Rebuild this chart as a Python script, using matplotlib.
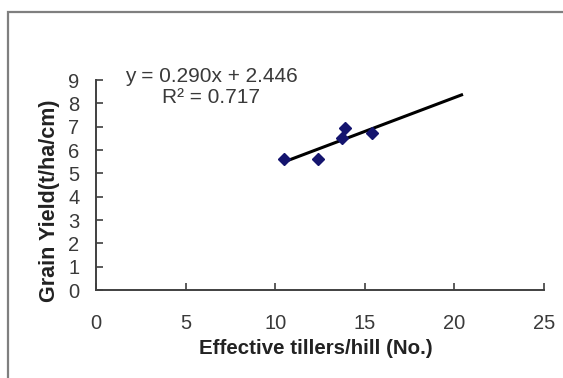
import matplotlib.pyplot as plt
from matplotlib.patches import Rectangle

plt.rcParams['font.family'] = ['Liberation Sans', 'DejaVu Sans']

# observed points
tillers = [10.5, 12.4, 13.7, 13.9, 15.4]
grain_yield = [5.6, 5.6, 6.5, 6.95, 6.75]

# linear trendline (forecast forward to ~20.4)
slope, intercept = 0.290, 2.446
trend_x = [10.5, 20.4]
trend_y = [slope * x + intercept for x in trend_x]

x_ticks = [0, 5, 10, 15, 20, 25]
y_ticks = [0, 1, 2, 3, 4, 5, 6, 7, 8, 9]

fig = plt.figure(figsize=(5.63, 3.78), dpi=100)

# chart area border (cut off at right and bottom like the screenshot)
fig.patches.append(Rectangle((8 / 563, -0.1), 1.0, 1 - 12 / 378 + 0.1,
                             transform=fig.transFigure, fill=False,
                             edgecolor='#7f7f7f', linewidth=1.6))

ax = fig.add_axes([96 / 563, 1 - 290 / 378, 448 / 563, 210 / 378])

ax.plot(trend_x, trend_y, color='black', linewidth=2.2, zorder=2)
ax.plot(tillers, grain_yield, linestyle='none', marker='D', markersize=6,
        color='#14146e', zorder=3)

ax.set_xlim(0, 25)
ax.set_ylim(0, 9)
ax.set_xticks(x_ticks)
ax.set_yticks(y_ticks)

for side in ['top', 'right']:
    ax.spines[side].set_visible(False)
for side in ['left', 'bottom']:
    ax.spines[side].set_color('#404040')
    ax.spines[side].set_linewidth(1.4)

ax.tick_params(axis='both', direction='in', length=5, width=1.2,
               color='#404040', labelsize=14.5, labelcolor='#3a3a3a')
ax.tick_params(axis='x', pad=17)
ax.tick_params(axis='y', pad=12)

ax.text(211 / 563, 1 - 87 / 378, 'y = 0.290x + 2.446\nR² = 0.717',
        transform=fig.transFigure, ha='center', va='center',
        multialignment='center', fontsize=15, color='#3a3a3a',
        linespacing=1.1)

fig.text(316 / 563, 1 - 348 / 378, 'Effective tillers/hill (No.)',
         ha='center', va='center', fontsize=14.8, fontweight='bold',
         color='#222222')
fig.text(50 / 563, 1 - 201 / 378, 'Grain Yield(t/ha/cm)',
         ha='center', va='center', rotation=90, fontsize=15.5,
         fontweight='bold', color='#222222')

fig.savefig('out.png', dpi=100)
